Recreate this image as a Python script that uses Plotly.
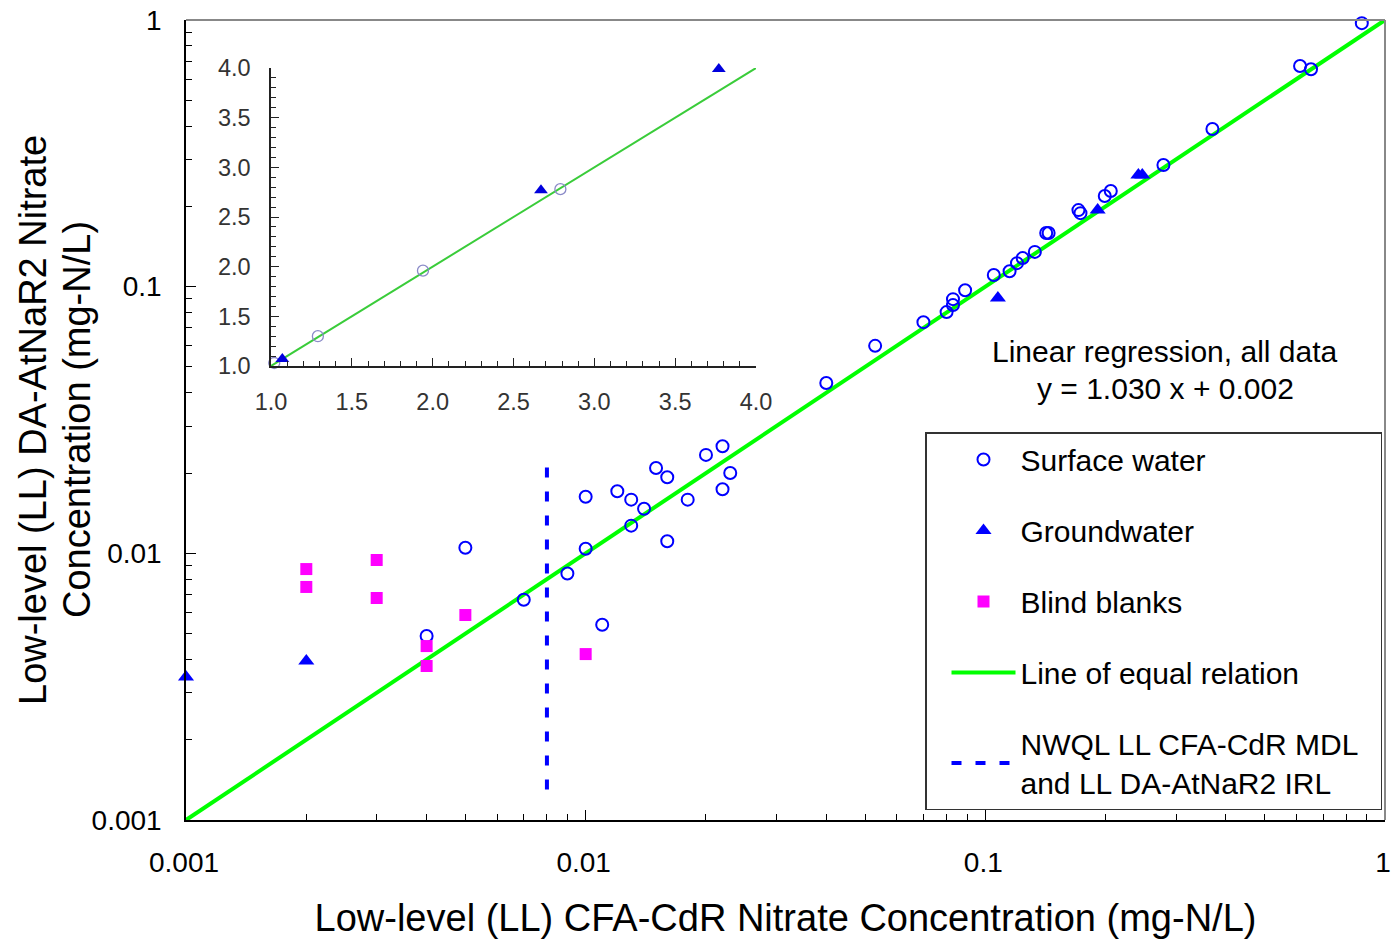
import plotly.graph_objects as go

# ---------------- data ----------------
sw_x = [0.004, 0.005, 0.007, 0.009, 0.010, 0.011, 0.010, 0.012, 0.013, 0.013, 0.014,
        0.015, 0.016, 0.016, 0.018, 0.020, 0.022, 0.022, 0.023, 0.040, 0.053, 0.070,
        0.080, 0.083, 0.083, 0.089, 0.105, 0.115, 0.120, 0.124, 0.133, 0.142, 0.144,
        0.171, 0.173, 0.199, 0.206, 0.279, 0.370, 0.613, 0.653, 0.875]
sw_y = [0.0049, 0.0105, 0.0067, 0.0084, 0.0104, 0.0054, 0.0163, 0.0171, 0.0159, 0.0127, 0.0147,
        0.0209, 0.0193, 0.0111, 0.0159, 0.0234, 0.0252, 0.0174, 0.0200, 0.0435, 0.060, 0.0736,
        0.0803, 0.0853, 0.0898, 0.097, 0.1106, 0.1143, 0.1225, 0.128, 0.135, 0.159, 0.159,
        0.1937, 0.1887, 0.2188, 0.2283, 0.2858, 0.39, 0.672, 0.654, 0.973]

gw_x = [0.001, 0.002, 0.1075, 0.191, 0.2415, 0.247]
gw_y = [0.00344, 0.00395, 0.0906, 0.194, 0.262, 0.262]

bb_x = [0.002, 0.002, 0.003, 0.003, 0.004, 0.004, 0.005, 0.010]
bb_y = [0.00873, 0.00748, 0.00944, 0.00680, 0.00449, 0.00378, 0.00587, 0.00419]

equal_line = [0.001, 1.0]
mdl_x = [0.008, 0.008]
mdl_y = [0.0013, 0.0215]

# inset (higher concentrations)
ins_sw_x = [1.02, 1.29, 1.94, 2.79]
ins_sw_y = [1.03, 1.30, 1.96, 2.78]
ins_gw_x = [1.07, 2.67, 3.77]
ins_gw_y = [1.07, 2.77, 3.99]
ins_line = [1.0, 4.0]

main_ticks = [0.001, 0.01, 0.1, 1]
main_ticktext = ["0.001", "0.01", "0.1", "1"]
minor_ticks = [m * d for d in (0.001, 0.01, 0.1) for m in range(2, 10)]
ins_ticks = [1.0, 1.5, 2.0, 2.5, 3.0, 3.5, 4.0]
ins_minor = [round(1.0 + 0.1 * i, 1) for i in range(31)]

x_title = "Low-level (LL) CFA-CdR Nitrate Concentration (mg-N/L)"
y_title_lines = ["Low-level (LL) DA-AtNaR2 Nitrate", "Concentration (mg-N/L)"]
regression_lines = ["Linear regression, all data", "y = 1.030 x + 0.002"]

FONT = "Arial, Liberation Sans, sans-serif"
BLUE = "#0000FF"
MAG = "#FF00FF"
GREEN = "#00FF00"

PLOT_L = 186
PLOT_W = 1199

fig = go.Figure()

fig.add_trace(go.Scatter(x=equal_line, y=equal_line, mode="lines",
                         line=dict(color=GREEN, width=4),
                         name="Line of equal relation", legendrank=4, legendgroup="d"))
fig.add_trace(go.Scatter(x=mdl_x, y=mdl_y, mode="lines",
                         line=dict(color=BLUE, width=4, dash="10px,14px"),
                         name="NWQL LL CFA-CdR MDL\u00a0\u00a0<br>and LL DA-AtNaR2 IRL",
                         legendrank=5, legendgroup="e"))
fig.add_trace(go.Scatter(x=sw_x, y=sw_y, mode="markers", cliponaxis=False,
                         marker=dict(symbol="circle-open", size=12, color=BLUE,
                                     line=dict(width=2, color=BLUE)),
                         name="Surface water", legendrank=1, legendgroup="a"))
fig.add_trace(go.Scatter(x=gw_x, y=gw_y, mode="markers", cliponaxis=False,
                         marker=dict(symbol="triangle-up", size=14, color=BLUE),
                         name="Groundwater", legendrank=2, legendgroup="b"))
fig.add_trace(go.Scatter(x=bb_x, y=bb_y, mode="markers", cliponaxis=False,
                         marker=dict(symbol="square", size=12, color=MAG),
                         name="Blind blanks", legendrank=3, legendgroup="c"))

# inset traces
fig.add_trace(go.Scatter(x=ins_line, y=ins_line, mode="lines", xaxis="x2", yaxis="y2",
                         line=dict(color="#3ACC3A", width=2), showlegend=False))
fig.add_trace(go.Scatter(x=ins_sw_x, y=ins_sw_y, mode="markers", xaxis="x2", yaxis="y2",
                         cliponaxis=False,
                         marker=dict(symbol="circle-open", size=11, color="#8A8AC8",
                                     line=dict(width=1.3, color="#8A8AC8")),
                         showlegend=False))
fig.add_trace(go.Scatter(x=ins_gw_x, y=ins_gw_y, mode="markers", xaxis="x2", yaxis="y2",
                         cliponaxis=False,
                         marker=dict(symbol="triangle-up", size=12, color="#0000DD"),
                         showlegend=False))

axis_common = dict(type="log", range=[-3, 0], showgrid=False, zeroline=False,
                   showline=True, linecolor="black", linewidth=1.5, automargin=False,
                   ticks="inside", ticklen=10, tickwidth=1, tickcolor="black",
                   tickmode="array", tickvals=main_ticks, ticktext=main_ticktext,
                   ticklabeloverflow="allow",
                   tickfont=dict(family=FONT, size=28, color="black"),
                   minor=dict(ticks="inside", ticklen=6, tickwidth=1, tickcolor="black",
                              tickmode="array", tickvals=minor_ticks))

ins_common = dict(range=[1, 4.0], showgrid=False, zeroline=False, showline=True,
                  linecolor="#222", linewidth=1.5, automargin=False,
                  ticks="inside", ticklen=8, tickcolor="#222", tickmode="array",
                  tickvals=ins_ticks, ticktext=[f"{v:.1f}" for v in ins_ticks],
                  tickfont=dict(family=FONT, size=23.5, color="#333"),
                  minor=dict(ticks="inside", ticklen=5, tickcolor="#222", tickmode="array",
                             tickvals=ins_minor))


def px_x(p):
    return (p - PLOT_L) / PLOT_W


fig.update_layout(
    width=1393, height=939,
    margin=dict(l=PLOT_L, r=1393 - PLOT_L - PLOT_W, t=20, b=119),
    paper_bgcolor="white", plot_bgcolor="white",
    font=dict(family=FONT, color="black"),
    xaxis=dict(**axis_common, ticklabelstandoff=17, ticklabelshift=-2,
               title=dict(text=x_title, font=dict(size=38, family=FONT), standoff=27)),
    yaxis=dict(**axis_common, ticklabelstandoff=17),
    xaxis2=dict(**ins_common, domain=[px_x(271), px_x(756)], anchor="y2", ticklabelstandoff=14),
    yaxis2=dict(**ins_common, domain=[0.5675, 0.94], anchor="x2", ticklabelstandoff=14),
    legend=dict(x=px_x(925), y=0.485, xanchor="left", yanchor="top",
                bgcolor="white", bordercolor="#333", borderwidth=1.5,
                font=dict(family=FONT, size=30, color="black"),
                tracegroupgap=29, itemwidth=64, indentation=20, traceorder="grouped"),
    showlegend=True,
)

# y-axis title (two lines, placed in the left margin)
for txt, xp in zip(y_title_lines, [33, 77]):
    fig.add_annotation(xref="paper", yref="paper", x=px_x(xp), y=0.5,
                       text=txt, textangle=-90, showarrow=False,
                       font=dict(size=38, family=FONT, color="black"),
                       xanchor="center", yanchor="middle")

# frame on top/right (grey)
fig.add_shape(type="line", xref="paper", yref="paper", x0=0, x1=1, y0=1, y1=1,
              line=dict(color="#888", width=2))
fig.add_shape(type="line", xref="paper", yref="paper", x0=1, x1=1, y0=0, y1=1,
              line=dict(color="#888", width=2))

for txt, yp in zip(regression_lines, [0.586, 0.54]):
    fig.add_annotation(xref="paper", yref="paper", x=px_x(1165), y=yp, showarrow=False,
                       text=txt, font=dict(size=30, family=FONT),
                       xanchor="center", yanchor="middle")

fig.write_html("out.html", config={"displayModeBar": False},
               post_script="document.body.style.margin='0';")
